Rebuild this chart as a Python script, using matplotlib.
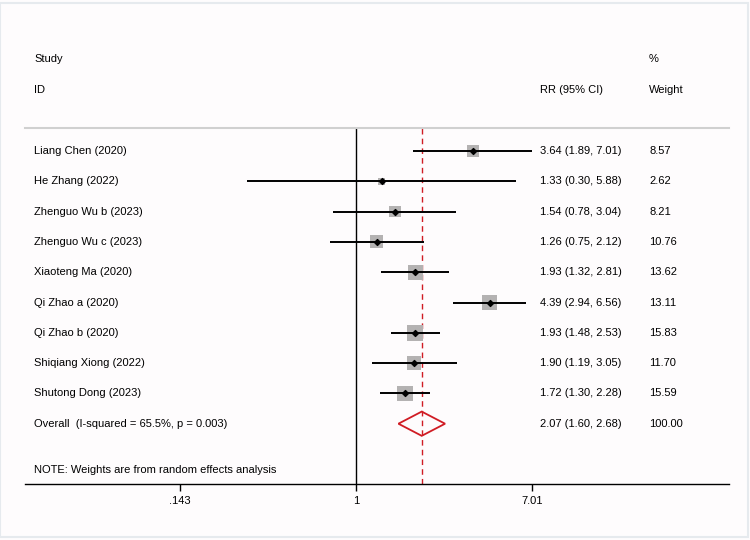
import numpy as np
import matplotlib
matplotlib.use("Agg")
import matplotlib.pyplot as plt
from matplotlib.patches import Polygon, Rectangle

plt.rcParams['font.family'] = ['Liberation Sans', 'DejaVu Sans']
plt.rcParams['font.size'] = 8

studies = ["Liang Chen (2020)", "He Zhang (2022)", "Zhenguo Wu b (2023)",
           "Zhenguo Wu c (2023)", "Xiaoteng Ma (2020)", "Qi Zhao a (2020)",
           "Qi Zhao b (2020)", "Shiqiang Xiong (2022)", "Shutong Dong (2023)"]
rr = [3.64, 1.33, 1.54, 1.26, 1.93, 4.39, 1.93, 1.90, 1.72]
lo = [1.89, 0.30, 0.78, 0.75, 1.32, 2.94, 1.48, 1.19, 1.30]
hi = [7.01, 5.88, 3.04, 2.12, 2.81, 6.56, 2.53, 3.05, 2.28]
weight = [8.57, 2.62, 8.21, 10.76, 13.62, 13.11, 15.83, 11.70, 15.59]

overall_label = "Overall  (I-squared = 65.5%, p = 0.003)"
overall_rr, overall_lo, overall_hi = 2.07, 1.60, 2.68
overall_w = 100.00
note = "NOTE: Weights are from random effects analysis"
xticks = [0.143, 1, 7.01]
xticklabels = [".143", "1", "7.01"]

fig = plt.figure(figsize=(7.5, 5.4), dpi=100)
fig.patch.set_facecolor('#fefcfd')
fig.patches.append(Rectangle((0.0, 0.005), 0.997, 0.99, transform=fig.transFigure,
                             fill=False, edgecolor='#e6eaee', lw=1.5))

# axes: x from 25px to 729px, y from 128px (top) to 484px (bottom)
ax = fig.add_axes([25/750, 56/540, 704/750, 356/540])
ax.set_facecolor('none')
ax.set_xscale('log')
ax.set_xlim(np.exp(-3.66), np.exp(4.126))
ax.set_ylim(10.99, -0.76)

for s in ['left', 'right']:
    ax.spines[s].set_visible(False)
ax.spines['top'].set_color('#d0d0d0')
ax.spines['top'].set_linewidth(1.5)
ax.spines['bottom'].set_linewidth(1.0)
ax.set_yticks([])
ax.set_xticks(xticks)
ax.set_xticklabels(xticklabels)
ax.minorticks_off()
ax.tick_params(axis='x', length=5, width=1, pad=4, labelsize=8)

rows = np.arange(len(studies))

# reference line at 1 and overall dashed line
ax.axvline(1, color='black', lw=1.0)
ax.axvline(overall_rr, color='#d01c24', lw=1.0, ls=(0, (4, 3)))

# CI lines
ax.hlines(rows, lo, hi, color='black', lw=1.4, zorder=3)
# weight boxes (area ~ weight)
side_px = 4.0 * np.sqrt(weight)
ax.scatter(rr, rows, marker='s', s=(side_px * 0.72) ** 2, color='#b4b2b2',
           edgecolor='none', zorder=2)
ax.scatter(rr, rows, marker='D', s=9, color='black', zorder=4)

# overall diamond
yo = len(studies)
diamond = Polygon([[overall_lo, yo], [overall_rr, yo - 0.4], [overall_hi, yo],
                   [overall_rr, yo + 0.4]], closed=True, fill=False,
                  edgecolor='#d01c24', lw=1.3, zorder=4)
ax.add_patch(diamond)

# text columns
tr = ax.get_yaxis_transform()
x_name = (34 - 25) / 704
x_ci = (540 - 25) / 704
x_w = (649 - 25) / 704

def t(x, y, s):
    ax.text(x, y, s, transform=tr, ha='left', va='center', clip_on=False)

t(x_name, -3.04, "Study")
t(x_name, -2.01, "ID")
t(x_ci, -2.01, "RR (95% CI)")
t(x_w, -3.04, "%")
t(x_w, -2.01, "Weight")

for i in rows:
    t(x_name, i, studies[i])
    t(x_ci, i, f"{rr[i]:.2f} ({lo[i]:.2f}, {hi[i]:.2f})")
    t(x_w, i, f"{weight[i]:.2f}")

t(x_name, yo, overall_label)
t(x_ci, yo, f"{overall_rr:.2f} ({overall_lo:.2f}, {overall_hi:.2f})")
t(x_w, yo, f"{overall_w:.2f}")
t(x_name, 10.53, note)

fig.savefig("out.png", dpi=100, facecolor=fig.get_facecolor())
